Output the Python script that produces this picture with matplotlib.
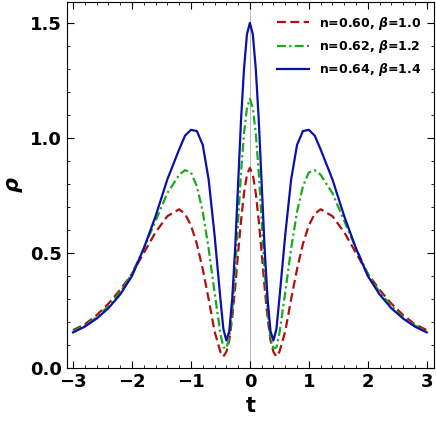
import numpy as np
import matplotlib.pyplot as plt
from matplotlib.ticker import MultipleLocator

# half-curve readings (t >= 0), curves are symmetric in t
t_half = [0, 0.05, 0.1, 0.15, 0.2, 0.25, 0.3, 0.35, 0.4, 0.45, 0.5, 0.6, 0.7, 0.8, 0.9,
          1.0, 1.1, 1.2, 1.4, 1.6, 1.8, 2.0, 2.2, 2.4, 2.6, 2.8, 3.0]
rho_red = [0.87, 0.84, 0.76, 0.64, 0.50, 0.35, 0.22, 0.12, 0.07, 0.05, 0.07, 0.16, 0.30, 0.43, 0.54,
           0.62, 0.67, 0.69, 0.66, 0.59, 0.50, 0.41, 0.34, 0.28, 0.23, 0.19, 0.165]
rho_green = [1.17, 1.13, 1.02, 0.85, 0.64, 0.42, 0.25, 0.13, 0.085, 0.09, 0.15, 0.33, 0.52, 0.68, 0.79,
             0.85, 0.86, 0.84, 0.76, 0.64, 0.52, 0.41, 0.33, 0.27, 0.22, 0.185, 0.16]
rho_blue = [1.50, 1.45, 1.30, 1.08, 0.80, 0.52, 0.30, 0.16, 0.12, 0.17, 0.30, 0.58, 0.82, 0.97, 1.03,
            1.035, 1.01, 0.95, 0.82, 0.66, 0.52, 0.40, 0.32, 0.26, 0.215, 0.18, 0.155]
labels = [r"n=0.60, $\beta$=1.0", r"n=0.62, $\beta$=1.2", r"n=0.64, $\beta$=1.4"]


def full(vals):
    return np.concatenate([vals[:0:-1], vals])


t = np.concatenate([-np.array(t_half[:0:-1]), np.array(t_half)])

plt.rcParams['font.weight'] = 'bold'
plt.rcParams['mathtext.default'] = 'bfit'
fig = plt.figure(figsize=(4.36, 4.32), dpi=100)
ax = fig.add_axes([0.154, 0.148, 0.841, 0.847])

ax.axvline(0, color="#bbbbbb", lw=0.8, zorder=0)
ax.plot(t, full(rho_red), color="#b01010", ls=(0, (4, 2)), lw=1.6, label=labels[0])
ax.plot(t, full(rho_green), color="#1aaa1a", ls=(0, (4, 1.5, 1, 1.5)), lw=1.6, label=labels[1])
ax.plot(t, full(rho_blue), color="#0a10a8", lw=1.6, label=labels[2])

ax.set_xlim(-3.1, 3.12)
ax.set_ylim(0, 1.59)
ax.xaxis.set_major_locator(MultipleLocator(1))
ax.xaxis.set_minor_locator(MultipleLocator(0.2))
ax.yaxis.set_major_locator(MultipleLocator(0.5))
ax.yaxis.set_minor_locator(MultipleLocator(0.1))
ax.tick_params(which="both", direction="in", top=True, right=True, labelsize=13)
ax.tick_params(which="major", length=5)
ax.tick_params(which="minor", length=2.5)
ax.set_xlabel("t", fontsize=15, fontweight="bold")
ax.set_ylabel(r"$\rho$", fontsize=15)

ax.legend(loc="upper right", frameon=False, fontsize=9, handlelength=2.6, borderaxespad=0.6)

fig.savefig("out.png", dpi=100)
